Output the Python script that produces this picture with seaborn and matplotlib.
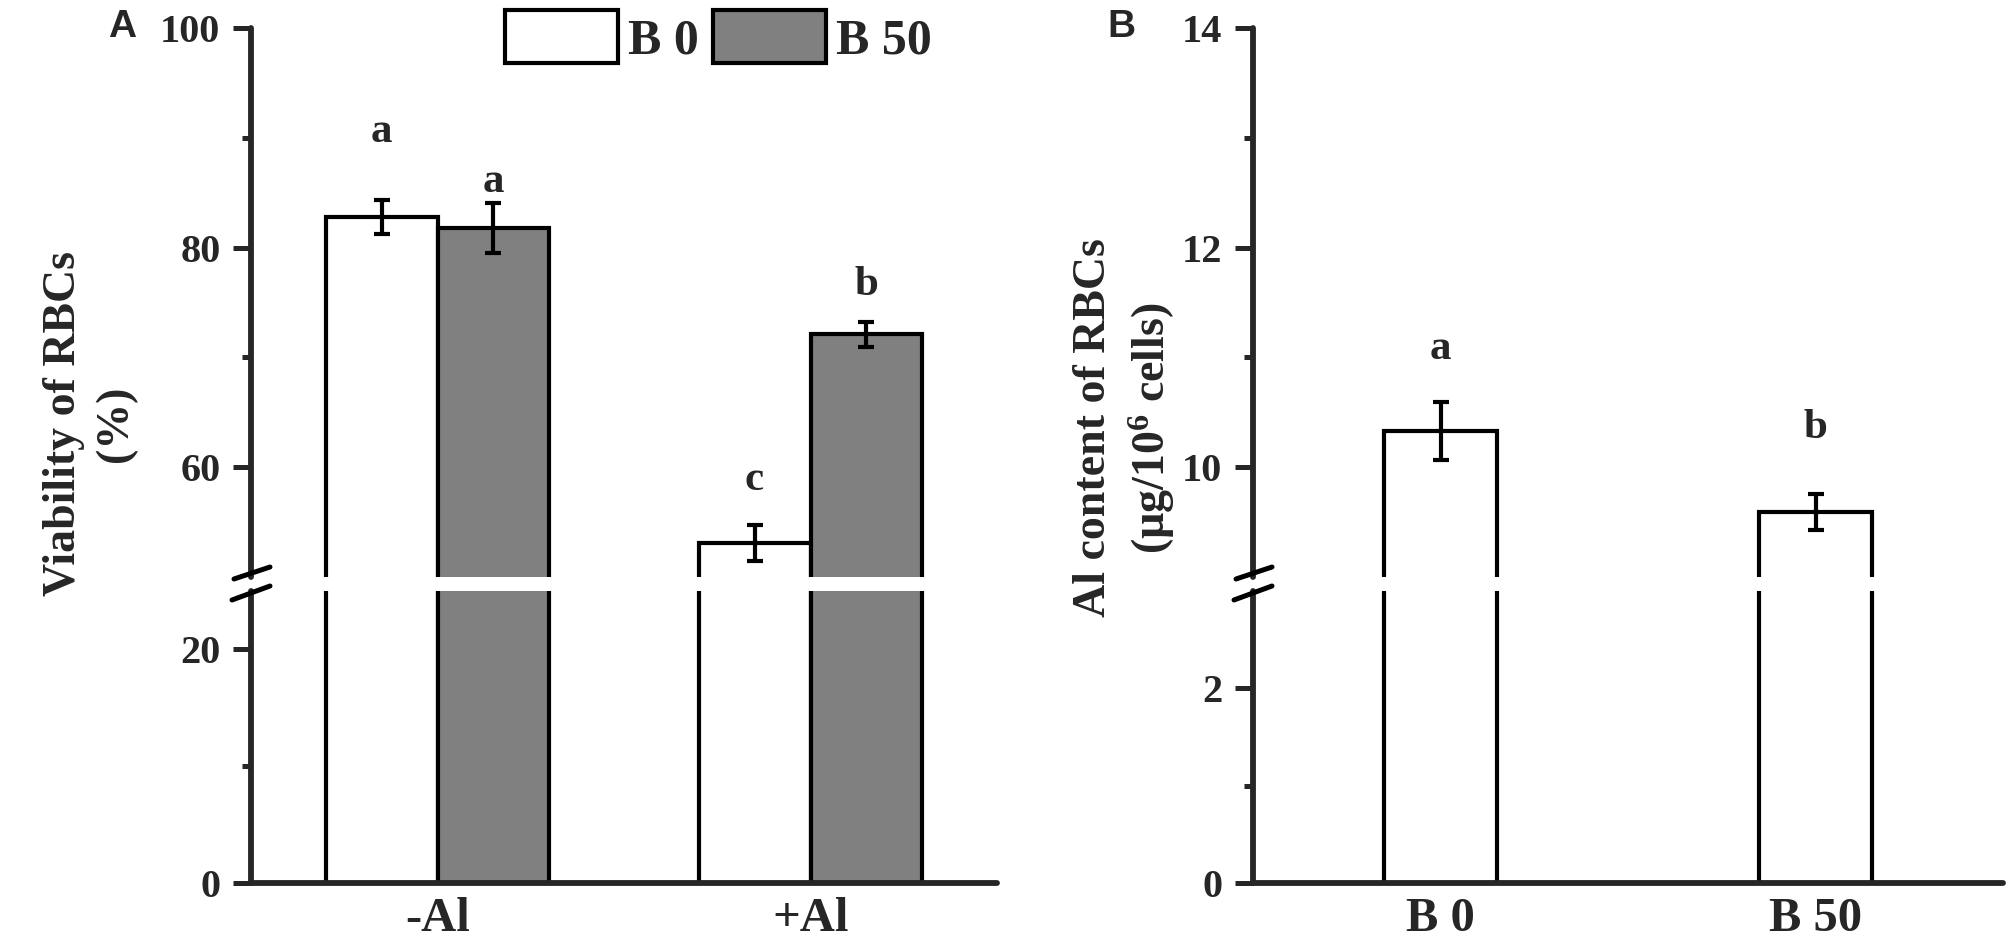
"""
Cell viability and Al content of RBCs with broken y axes (panels A and B).
"""

import matplotlib
matplotlib.use("Agg")

import numpy as np
import pandas as pd
import matplotlib.pyplot as plt
from matplotlib.lines import Line2D
from matplotlib.ticker import MultipleLocator
import seaborn as sns

sns.set_theme(style="ticks")
plt.rcParams["font.family"] = ["Liberation Serif", "DejaVu Serif"]
plt.rcParams["font.weight"] = "bold"
plt.rcParams["mathtext.fontset"] = "custom"
plt.rcParams["mathtext.default"] = "regular"

# Panel A data
treatments = ["-Al", "+Al"]
boron = ["B 0", "B 50"]
viability_b0 = [82.8, 53.1]
viability_b50 = [81.8, 72.1]
viability_err_b0 = [1.55, 1.65]
viability_err_b50 = [2.25, 1.15]
letters_b0 = ["a", "c"]
letters_b50 = ["a", "b"]
letter_y_b0 = [90.5, 58.8]
letter_y_b50 = [86.0, 76.6]

# Panel B data
al_groups = ["B 0", "B 50"]
al_content = [10.33, 9.59]
al_err = [0.26, 0.165]
al_letters = ["a", "b"]
al_letter_y = [11.08, 10.36]

W, H = 2010, 949
fig = plt.figure(figsize=(W / 100, H / 100), dpi=100)

SPINE_LW = 4.2
BAR_LW = 3.0
TICK_FS = 29
XTICK_FS = 35
LABEL_FS = 33
LETTER_FS = 31
colors = {"B 0": "white", "B 50": "#808080"}


def px_axes(left, right, top, bottom):
  return fig.add_axes([left / W, 1 - bottom / H, (right - left) / W, (bottom - top) / H])


def style_axes(ax, upper):
  ax.set_xlim(-0.5, 1.5)
  ax.set_xlabel("")
  ax.set_ylabel("")
  ax.set_facecolor("white")
  for side in ["top", "right"]:
    ax.spines[side].set_visible(False)
  if upper:
    ax.spines["bottom"].set_visible(False)
    ax.tick_params(axis="x", which="both", bottom=False, labelbottom=False)
  else:
    ax.spines["bottom"].set_linewidth(SPINE_LW)
    ax.spines["bottom"].set_capstyle("round")
    ax.tick_params(axis="x", length=0, labelsize=XTICK_FS, pad=10)
  ax.spines["left"].set_linewidth(SPINE_LW)
  ax.spines["left"].set_capstyle("round")
  ax.tick_params(axis="y", which="major", length=13, width=3.6,
                 labelsize=TICK_FS, pad=9)
  ax.tick_params(axis="y", which="minor", length=6.5, width=3.6)
  ax.grid(False)


def add_break(ax_upper):
  pos = ax_upper.get_position()
  x0, y0 = pos.x0 * W, pos.y0 * H
  for (xa, ya), (xb, yb) in [((-17, -2), (19, 10)), ((-19, -23), (19, -9))]:
    fig.add_artist(Line2D(
        [(x0 + xa) / W, (x0 + xb) / W],
        [(y0 + ya) / H, (y0 + yb) / H],
        transform=fig.transFigure, color="black", lw=3.6,
        solid_capstyle="round"
    ))


# ---------------- Panel A ----------------
df_via = pd.DataFrame({
    "treatment": treatments * 2,
    "boron": ["B 0"] * 2 + ["B 50"] * 2,
    "viability": viability_b0 + viability_b50,
})

axA_top = px_axes(251, 997, 28, 577)
axA_bot = px_axes(251, 997, 591, 883)
for ax in [axA_top, axA_bot]:
  sns.barplot(
      data=df_via, x="treatment", y="viability", hue="boron",
      order=treatments, hue_order=boron, palette=colors, width=0.6,
      saturation=1, edgecolor="black", linewidth=BAR_LW,
      errorbar=None, legend=False, ax=ax
  )

axA_top.set_ylim(50, 100)
axA_top.yaxis.set_major_locator(MultipleLocator(20))
axA_top.set_yticks([60, 80, 100])
axA_top.set_yticks([70, 90], minor=True)
axA_bot.set_ylim(0, 25)
axA_bot.set_yticks([0, 20])
axA_bot.set_yticks([10], minor=True)
style_axes(axA_top, True)
style_axes(axA_bot, False)

for cont, vals, errs, lets, ly in zip(
    axA_top.containers,
    [viability_b0, viability_b50],
    [viability_err_b0, viability_err_b50],
    [letters_b0, letters_b50],
    [letter_y_b0, letter_y_b50],
):
  xs = [p.get_x() + p.get_width() / 2 for p in cont]
  axA_top.errorbar(xs, vals, yerr=errs, fmt="none", ecolor="black",
                   elinewidth=3, capsize=6, capthick=3)
  for x, t, y in zip(xs, lets, ly):
    axA_top.text(x, y, t, ha="center", va="center", fontsize=LETTER_FS)

add_break(axA_top)

handles = [axA_top.containers[0][0], axA_top.containers[1][0]]
fig.legend(
    handles, boron, loc="upper left", bbox_to_anchor=(505 / W, 1 - 10 / H),
    ncol=2, frameon=False, borderpad=0, borderaxespad=0,
    handlelength=2.25, handleheight=1.25, handletextpad=0.2,
    columnspacing=0.3, prop={"family": "Liberation Serif",
                             "weight": "bold", "size": 36}
)

fig.text(90 / W, 1 - 424 / H, "Viability of RBCs\n(%)", rotation=90,
         ha="center", va="center", multialignment="center",
         fontsize=LABEL_FS, linespacing=1.3)
fig.text(122 / W, 1 - 27 / H, "A", ha="center", va="center",
         family="Liberation Sans", weight="bold", fontsize=28)

# ---------------- Panel B ----------------
axB_top = px_axes(1253, 2003, 28, 577)
axB_bot = px_axes(1253, 2003, 591, 883)
for ax in [axB_top, axB_bot]:
  sns.barplot(
      x=al_groups, y=al_content, color="white", width=0.3, saturation=1,
      edgecolor="black", linewidth=BAR_LW, errorbar=None, ax=ax
  )

axB_top.set_ylim(9, 14)
axB_top.set_yticks([10, 12, 14])
axB_top.set_yticks([11, 13], minor=True)
axB_bot.set_ylim(0, 3)
axB_bot.set_yticks([0, 2])
axB_bot.set_yticks([1], minor=True)
style_axes(axB_top, True)
style_axes(axB_bot, False)

xs = [p.get_x() + p.get_width() / 2 for p in axB_top.containers[0]]
axB_top.errorbar(xs, al_content, yerr=al_err, fmt="none", ecolor="black",
                 elinewidth=3, capsize=6, capthick=3)
for x, t, y in zip(xs, al_letters, al_letter_y):
  axB_top.text(x, y, t, ha="center", va="center", fontsize=LETTER_FS)

add_break(axB_top)

fig.text(1125 / W, 1 - 428 / H, "Al content of RBCs\n(µg/10$^6$ cells)",
         rotation=90, ha="center", va="center", multialignment="center",
         fontsize=LABEL_FS, linespacing=1.3)
fig.text(1121 / W, 1 - 27 / H, "B", ha="center", va="center",
         family="Liberation Sans", weight="bold", fontsize=28)

fig.savefig("out.png", dpi=100, facecolor="white")
